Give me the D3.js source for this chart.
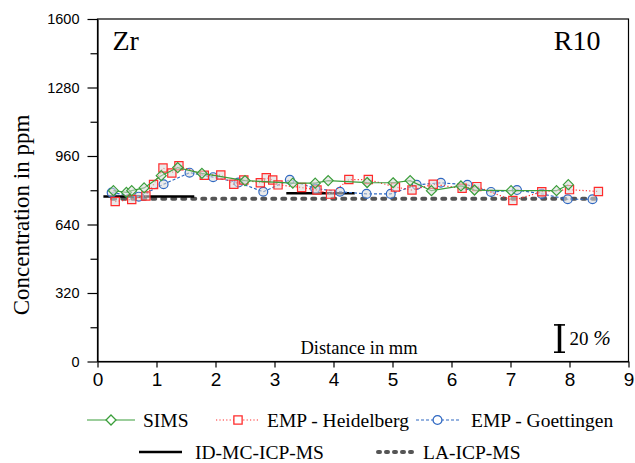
<!DOCTYPE html>
<html>
<head>
<meta charset="utf-8">
<script src="https://cdn.jsdelivr.net/npm/d3@7"></script>
<style>
  body { margin: 0; background: #fff; }
  svg { display: block; }
  .serif { font-family: "Liberation Serif", "Times New Roman", serif; }
  .axis text { font-family: "Liberation Sans", Arial, sans-serif; fill: #000; }
</style>
</head>
<body>
<svg id="chart" width="635" height="463"></svg>
<script>
// values (distance in mm, concentration in ppm)
const simsX = [0.27, 0.49, 0.58, 0.79, 1.08, 1.36, 1.77, 2.50, 3.31, 3.69, 3.91, 4.57, 5.01, 5.30, 5.66, 6.16, 6.39, 7.01, 7.78, 7.98];
const simsY = [798, 790, 798, 811, 868, 906, 879, 845, 833, 833, 845, 836, 835, 845, 798, 820, 801, 798, 798, 826];

const heidX = [0.30, 0.58, 0.82, 0.95, 1.11, 1.26, 1.38, 1.81, 2.09, 2.31, 2.48, 2.76, 2.86, 2.97, 3.06, 3.46, 3.72, 3.95, 4.26, 4.59, 5.05, 5.33, 5.69, 6.18, 6.43, 7.04, 7.53, 8.00, 8.49];
const heidY = [747, 757, 773, 827, 904, 881, 914, 870, 871, 828, 848, 835, 858, 848, 825, 813, 801, 782, 850, 850, 815, 801, 828, 809, 817, 752, 793, 803, 794];

const goetX = [0.24, 0.70, 1.12, 1.56, 1.96, 2.39, 2.81, 3.26, 3.69, 4.11, 4.56, 4.97, 5.41, 5.82, 6.27, 6.67, 7.11, 7.53, 7.97, 8.39];
const goetY = [789, 770, 828, 882, 861, 836, 793, 849, 808, 793, 783, 783, 825, 835, 825, 792, 801, 783, 758, 758];

// ID-MC-ICP-MS segments [x0, x1, value]
const idSegments = [[0.10, 1.64, 771], [3.20, 4.36, 786]];
// LA-ICP-MS level and extent
const laX = [0.25, 8.50];
const laY = [760, 760];

const xTicks = [0, 1, 2, 3, 4, 5, 6, 7, 8, 9];
const yTicks = [0, 320, 640, 960, 1280, 1600];
const yMinor = [160, 480, 800, 1120, 1440];
const barPpm = 135; // the "20 %" scale bar

const green = "#3a9e3a", red = "#ff2b2b", blue = "#2f68c2";
const markFill = "#d9d9d9";

const margin = {left: 97.5, right: 6.5, top: 19, bottom: 101.5};
const width = 635 - margin.left - margin.right;
const height = 463 - margin.top - margin.bottom;

const x = d3.scaleLinear().domain([0, 9]).range([0, width]);
const y = d3.scaleLinear().domain([0, 1600]).range([height, 0]);

const svg = d3.select("#chart");
const g = svg.append("g").attr("transform", `translate(${margin.left},${margin.top})`);

// frame
g.append("rect")
    .attr("width", width).attr("height", height)
    .attr("fill", "none").attr("stroke", "#000").attr("stroke-width", 1.2);

// axes
const xAxis = g.append("g").attr("class", "axis")
    .attr("transform", `translate(0,${height})`)
    .call(d3.axisBottom(x).tickValues(xTicks).tickFormat(d3.format("d"))
        .tickSize(6).tickSizeOuter(0).tickPadding(5));
xAxis.selectAll("text").style("font-size", "19px");

const yAxis = g.append("g").attr("class", "axis")
    .call(d3.axisLeft(y).tickValues(yTicks).tickFormat(d3.format("d"))
        .tickSize(10).tickSizeOuter(0).tickPadding(8));
yAxis.selectAll("text").style("font-size", "14.5px");

g.append("g").attr("class", "axis")
    .call(d3.axisLeft(y).tickValues(yMinor).tickFormat("").tickSize(7).tickSizeOuter(0))
    .select(".domain").remove();

g.selectAll(".axis path, .axis line").attr("stroke", "#000").attr("stroke-width", 1.2);

// reference lines
const line = d3.line().x(d => x(d[0])).y(d => y(d[1]));

g.append("path")
    .datum(laX.map((v, i) => [v, laY[i]]))
    .attr("d", line)
    .attr("fill", "none").attr("stroke", "#555").attr("stroke-width", 4)
    .attr("stroke-dasharray", "3,7").attr("stroke-linecap", "round");

idSegments.forEach(s => {
    g.append("path")
        .datum([[s[0], s[2]], [s[1], s[2]]])
        .attr("d", line)
        .attr("fill", "none").attr("stroke", "#000").attr("stroke-width", 2.5);
});

// series
function series(xs, ys, color, dash, symbol, size) {
    const pts = xs.map((v, i) => [v, ys[i]]);
    g.append("path")
        .datum(pts)
        .attr("d", line)
        .attr("fill", "none").attr("stroke", color).attr("stroke-width", 1.2)
        .attr("stroke-dasharray", dash);
    g.append("g").selectAll("path")
        .data(pts)
        .join("path")
        .attr("transform", d => `translate(${x(d[0])},${y(d[1])})`)
        .attr("d", d3.symbol().type(symbol).size(size))
        .attr("fill", markFill).attr("fill-opacity", 0.55)
        .attr("stroke", color).attr("stroke-width", 1.2);
}

const diamond = {
    draw(ctx, size) {
        const r = Math.sqrt(size) / 2 * 1.25;
        ctx.moveTo(0, -r); ctx.lineTo(r, 0); ctx.lineTo(0, r); ctx.lineTo(-r, 0); ctx.closePath();
    }
};

series(goetX, goetY, blue, "3,2", d3.symbolCircle, 62);
series(heidX, heidY, red, "1.2,2.2", d3.symbolSquare, 68);
series(simsX, simsY, green, null, diamond, 64);

// labels in the plot
g.append("text").attr("class", "serif")
    .attr("x", 15).attr("y", 31)
    .style("font-size", "28px").text("Zr");
g.append("text").attr("class", "serif")
    .attr("x", 503).attr("y", 31).attr("text-anchor", "end")
    .style("font-size", "28px").text("R10");
g.append("text").attr("class", "serif")
    .attr("x", 261.5).attr("y", height - 8).attr("text-anchor", "middle")
    .style("font-size", "18.5px").text("Distance in mm");

// scale bar
const bx = 462, bBottom = height - 8.5, bTop = bBottom - (y(0) - y(barPpm));
const bar = g.append("g").attr("stroke", "#000");
bar.append("line").attr("x1", bx).attr("x2", bx).attr("y1", bTop).attr("y2", bBottom).attr("stroke-width", 3.5);
bar.append("line").attr("x1", bx - 5.5).attr("x2", bx + 5.5).attr("y1", bTop + 0.8).attr("y2", bTop + 0.8).attr("stroke-width", 1.6);
bar.append("line").attr("x1", bx - 5.5).attr("x2", bx + 5.5).attr("y1", bBottom - 0.8).attr("y2", bBottom - 0.8).attr("stroke-width", 1.6);
const pct = g.append("text").attr("class", "serif")
    .attr("x", bx + 10).attr("y", bBottom - 8).style("font-size", "19px");
pct.append("tspan").text("20 ");
pct.append("tspan").style("font-style", "italic").style("font-size", "21px").text("%");

// y axis title
svg.append("text").attr("class", "serif")
    .attr("transform", "translate(29,215) rotate(-90)")
    .attr("text-anchor", "middle")
    .style("font-size", "23px").text("Concentration in ppm");

// legend
const legendRows = [
    {label: "SIMS", x0: 87, x1: 135, tx: 143, y: 420, color: green, dash: null, w: 1.2, sym: diamond, size: 64},
    {label: "EMP - Heidelberg", x0: 216, x1: 260, tx: 267, y: 420, color: red, dash: "1.2,2.2", w: 1.2, sym: d3.symbolSquare, size: 68},
    {label: "EMP - Goettingen", x0: 416, x1: 459, tx: 471, y: 420, color: blue, dash: "3,2", w: 1.2, sym: d3.symbolCircle, size: 62},
    {label: "ID-MC-ICP-MS", x0: 139, x1: 182, tx: 195, y: 452, color: "#000", dash: null, w: 2.5},
    {label: "LA-ICP-MS", x0: 378, x1: 414, tx: 423, y: 452, color: "#555", dash: "2,6", w: 4, cap: "round"}
];
const legend = svg.append("g");
legendRows.forEach(r => {
    legend.append("line")
        .attr("x1", r.x0).attr("x2", r.x1).attr("y1", r.y).attr("y2", r.y)
        .attr("stroke", r.color).attr("stroke-width", r.w)
        .attr("stroke-dasharray", r.dash).attr("stroke-linecap", r.cap || "butt");
    if (r.sym) {
        legend.append("path")
            .attr("transform", `translate(${(r.x0 + r.x1) / 2},${r.y})`)
            .attr("d", d3.symbol().type(r.sym).size(r.size))
            .attr("fill", "#fff").attr("stroke", r.color).attr("stroke-width", 1.3);
    }
    legend.append("text").attr("class", "serif")
        .attr("x", r.tx).attr("y", r.y + 6.5)
        .style("font-size", "19.5px").text(r.label);
});
</script>
</body>
</html>
